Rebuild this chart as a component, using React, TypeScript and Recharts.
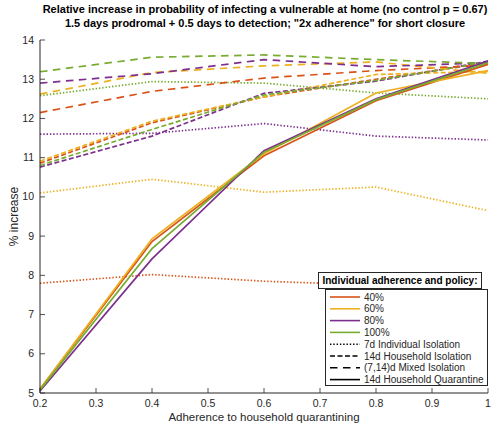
import React from 'react';
import { LineChart, Line, XAxis, YAxis } from 'recharts';

// adherence to household quarantining
const adherence = [0.2, 0.4, 0.6, 0.8, 1.0];

// 14d household quarantine (solid)
const quarantine40 = [5.1, 8.86, 11.05, 12.45, 13.38];
const quarantine60 = [5.1, 8.93, 11.1, 12.65, 13.22];
const quarantine80 = [5.05, 8.42, 11.18, 12.5, 13.46];
const quarantine100 = [5.08, 8.68, 11.14, 12.48, 13.42];

// 14d household isolation (short dashes)
const household40 = [10.86, 11.89, 12.55, 13.0, 13.42];
const household60 = [10.91, 11.93, 12.55, 13.12, 13.2];
const household80 = [10.76, 11.55, 12.64, 12.95, 13.46];
const household100 = [10.8, 11.72, 12.6, 12.97, 13.44];

// (7,14)d mixed isolation (long dashes)
const mixed40 = [12.15, 12.69, 13.03, 13.22, 13.36];
const mixed60 = [12.62, 13.17, 13.34, 13.44, 13.15];
const mixed80 = [12.9, 13.14, 13.5, 13.32, 13.42];
const mixed100 = [13.19, 13.56, 13.62, 13.5, 13.4];

// 7d individual isolation (dotted)
const individual40 = [7.8, 8.02, 7.85, 7.75, 7.62];
const individual60 = [10.1, 10.45, 10.12, 10.25, 9.65];
const individual80 = [11.6, 11.62, 11.87, 11.55, 11.45];
const individual100 = [12.58, 12.94, 12.9, 12.65, 12.5];

const xTicks = [0.2, 0.3, 0.4, 0.5, 0.6, 0.7, 0.8, 0.9, 1];
const yTicks = [5, 6, 7, 8, 9, 10, 11, 12, 13, 14];

const levels = ['40%', '60%', '80%', '100%'];
const colors = ['#D95319', '#EDB120', '#7E2F8E', '#77AC30'];

const policies = [
  { key: 'ind', name: '7d Individual Isolation', dash: '1.4 1.9', series: [individual40, individual60, individual80, individual100] },
  { key: 'hh', name: '14d Household Isolation', dash: '5 2.5', series: [household40, household60, household80, household100] },
  { key: 'mix', name: '(7,14)d Mixed Isolation', dash: '7.5 5.5', series: [mixed40, mixed60, mixed80, mixed100] },
  { key: 'q', name: '14d Household Quarantine', dash: undefined, series: [quarantine40, quarantine60, quarantine80, quarantine100] },
];

const data = adherence.map((a, i) => {
  const row: Record<string, number> = { adherence: a };
  policies.forEach((p) => p.series.forEach((s, j) => { row[`${p.key}${j}`] = s[i]; }));
  return row;
});

const FONT = '"Liberation Sans", Arial, Helvetica, sans-serif';
const AXIS = '#262626';

const XTick = (props: any) => {
  const { x, y, payload } = props;
  return (
    <g>
      <line x1={x} x2={x} y1={y} y2={y - 5} stroke={AXIS} strokeWidth={0.8} />
      <text x={x} y={y + 14} textAnchor="middle" fontSize={10.5} fill={AXIS} fontFamily={FONT}>
        {String(Math.round(payload.value * 10) / 10)}
      </text>
    </g>
  );
};

const YTick = (props: any) => {
  const { x, y, payload } = props;
  return (
    <g>
      <line x1={x} x2={x + 5} y1={y} y2={y} stroke={AXIS} strokeWidth={0.8} />
      <text x={x - 6} y={y + 3.5} textAnchor="end" fontSize={10.5} fill={AXIS} fontFamily={FONT}>
        {payload.value}
      </text>
    </g>
  );
};

const LegendBox = () => {
  const rows = [
    ...levels.map((l, i) => ({ label: l, color: colors[i], dash: undefined as string | undefined })),
    ...policies.map((p) => ({ label: p.name, color: '#000', dash: p.dash })),
  ];
  return (
    <div style={{ position: 'absolute', left: 318, top: 272, fontFamily: FONT }}>
      <div style={{ position: 'absolute', left: 0, top: 0, width: 164, height: 17, border: '1px solid #262626', background: '#fff', fontSize: 10, fontWeight: 'bold', lineHeight: '15px', textAlign: 'center', boxSizing: 'border-box', whiteSpace: 'nowrap' }}>
        Individual adherence and policy:
      </div>
      <div style={{ position: 'absolute', left: 7, top: 17, width: 163, height: 97, border: '1px solid #262626', background: '#fff', boxSizing: 'border-box' }}>
        <svg width={161} height={95} style={{ display: 'block' }}>
          {rows.map((r, i) => (
            <g key={r.label}>
              <line x1={4} x2={34} y1={7 + i * 11.8} y2={7 + i * 11.8} stroke={r.color} strokeWidth={1.6} strokeDasharray={r.dash} />
              <text x={38} y={10.5 + i * 11.8} fontSize={10} fill={AXIS} fontFamily={FONT}>{r.label}</text>
            </g>
          ))}
        </svg>
      </div>
    </div>
  );
};

export default function App() {
  return (
    <div style={{ position: 'absolute', left: 0, top: 0, width: 496, height: 427, background: '#fff', fontFamily: FONT }}>
      <div style={{ position: 'absolute', left: 0, top: 2, width: 530, textAlign: 'center', fontSize: 11, fontWeight: 'bold', lineHeight: '14px', color: '#000', whiteSpace: 'nowrap' }}>
        Relative increase in probability of infecting a vulnerable at home (no control p = 0.67)
        <br />
        1.5 days prodromal + 0.5 days to detection; "2x adherence" for short closure
      </div>
      <LineChart width={496} height={427} data={data} margin={{ top: 40, right: 8, bottom: 0, left: 0 }}>
        <XAxis
          dataKey="adherence"
          type="number"
          domain={[0.2, 1]}
          ticks={xTicks}
          tickSize={0}
          tickMargin={0}
          height={34}
          stroke={AXIS}
          tick={<XTick />}
          label={{ value: 'Adherence to household quarantining', position: 'insideBottom', offset: 6, fontSize: 11.5, fill: AXIS, fontFamily: FONT }}
        />
        <YAxis
          type="number"
          domain={[5, 14]}
          ticks={yTicks}
          tickSize={0}
          tickMargin={0}
          width={40}
          stroke={AXIS}
          tick={<YTick />}
          label={{ value: '% increase', angle: -90, position: 'insideLeft', offset: 14, fontSize: 12, fill: AXIS, fontFamily: FONT, style: { textAnchor: 'middle' } }}
        />
        {policies.map((p) =>
          p.series.map((_, j) => (
            <Line
              key={`${p.key}${j}`}
              type="linear"
              dataKey={`${p.key}${j}`}
              stroke={colors[j]}
              strokeWidth={1.7}
              strokeDasharray={p.dash}
              dot={false}
              isAnimationActive={false}
            />
          ))
        )}
      </LineChart>
      <LegendBox />
    </div>
  );
}
